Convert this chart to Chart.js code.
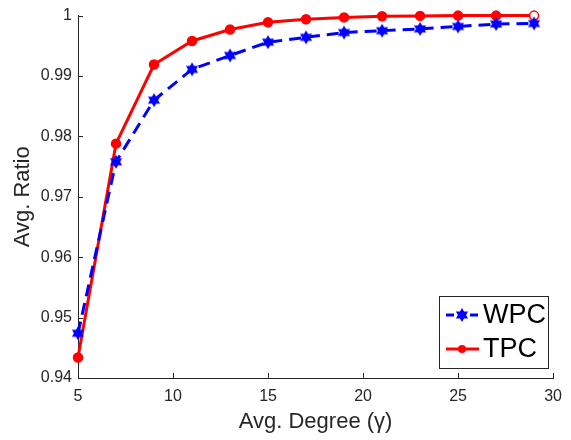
<!DOCTYPE html>
<html>
<head>
<meta charset="utf-8">
<script src="https://cdn.jsdelivr.net/npm/chart.js@4.4.1/dist/chart.umd.min.js"></script>
<style>
  body { margin: 0; background: #fff; }
  #wrap { width: 571px; height: 440px; }
</style>
</head>
<body>
<div id="wrap"><canvas id="ratioChart" width="571" height="440"></canvas></div>
<script>
const degrees = [5, 7, 9, 11, 13, 15, 17, 19, 21, 23, 25, 27, 29];
const wpcRatio = [0.9474, 0.9758, 0.9860, 0.9911, 0.9934, 0.9956, 0.9964, 0.9972, 0.9975, 0.9978, 0.9982, 0.9986, 0.9987];
const tpcRatio = [0.9434, 0.9788, 0.9919, 0.9958, 0.9977, 0.9989, 0.9994, 0.9997, 0.9999, 0.99995, 1.0, 1.0, 1.0];
const xTicks = [5, 10, 15, 20, 25, 30];
const yTicks = [0.94, 0.95, 0.96, 0.97, 0.98, 0.99, 1];

const axisColor = '#262626';
const font = '"Liberation Sans", Arial, Helvetica, sans-serif';

// six pointed star like matlab's hexagram marker
function hexagram(r, color) {
  const c = document.createElement('canvas');
  c.width = c.height = r * 2 + 2;
  const g = c.getContext('2d');
  g.translate(r + 1, r + 1);
  g.beginPath();
  for (let i = 0; i < 12; i++) {
    const a = -Math.PI / 2 + i * Math.PI / 6;
    const rr = i % 2 ? r * 0.58 : r;
    g.lineTo(rr * Math.cos(a), rr * Math.sin(a));
  }
  g.closePath();
  g.fillStyle = color;
  g.fill();
  return c;
}
const star = hexagram(7, '#0000ff');

const tpcFill = tpcRatio.map((v, i) => i === tpcRatio.length - 1 ? '#ffffff' : '#ff0000');

// inward tick marks, matlab style
const innerTicks = {
  id: 'innerTicks',
  afterDraw(chart) {
    const { ctx, chartArea, scales } = chart;
    ctx.save();
    ctx.strokeStyle = axisColor;
    ctx.lineWidth = 1;
    ctx.beginPath();
    xTicks.forEach(t => {
      const px = Math.round(scales.x.getPixelForValue(t)) + 0.5;
      ctx.moveTo(px, chartArea.bottom);
      ctx.lineTo(px, chartArea.bottom - 5);
    });
    yTicks.forEach(t => {
      const py = Math.round(scales.y.getPixelForValue(t)) + 0.5;
      ctx.moveTo(chartArea.left, py);
      ctx.lineTo(chartArea.left + 5, py);
    });
    ctx.stroke();
    ctx.restore();
  }
};

// legend box inside plot, lower right
const boxLegend = {
  id: 'boxLegend',
  afterDraw(chart) {
    const ctx = chart.ctx;
    const x0 = 439, y0 = 296, w = 109, h = 72;
    ctx.save();
    ctx.fillStyle = '#fff';
    ctx.fillRect(x0, y0, w, h);
    ctx.strokeStyle = axisColor;
    ctx.lineWidth = 1;
    ctx.strokeRect(x0 + 0.5, y0 + 0.5, w, h);
    const rows = [
      { label: 'WPC', color: '#0000ff', dash: [8, 4], y: 315 },
      { label: 'TPC', color: '#ff0000', dash: [], y: 349 }
    ];
    rows.forEach(r => {
      ctx.strokeStyle = r.color;
      ctx.lineWidth = 3;
      ctx.setLineDash(r.dash);
      ctx.beginPath();
      ctx.moveTo(446, r.y);
      ctx.lineTo(479, r.y);
      ctx.stroke();
      ctx.setLineDash([]);
      if (r.label === 'WPC') {
        ctx.drawImage(star, 462 - star.width / 2, r.y - star.height / 2);
      } else {
        ctx.fillStyle = r.color;
        ctx.beginPath();
        ctx.arc(462, r.y, 4, 0, Math.PI * 2);
        ctx.fill();
      }
      ctx.fillStyle = '#000';
      ctx.font = '27px ' + font;
      ctx.textBaseline = 'middle';
      ctx.fillText(r.label, 483, r.y + 1);
    });
    ctx.restore();
  }
};

const ctx = document.getElementById('ratioChart').getContext('2d');
new Chart(ctx, {
  type: 'line',
  data: {
    datasets: [
      {
        label: 'WPC',
        data: degrees.map((d, i) => ({ x: d, y: wpcRatio[i] })),
        borderColor: '#0000ff',
        borderWidth: 3,
        borderDash: [12, 7],
        pointStyle: star,
        pointRadius: 7,
        tension: 0,
        clip: false
      },
      {
        label: 'TPC',
        data: degrees.map((d, i) => ({ x: d, y: tpcRatio[i] })),
        borderColor: '#ff0000',
        borderWidth: 3,
        pointStyle: 'circle',
        pointRadius: 4.5,
        pointBorderWidth: 1.5,
        pointBackgroundColor: tpcFill,
        pointBorderColor: '#ff0000',
        tension: 0,
        clip: false
      }
    ]
  },
  options: {
    responsive: false,
    animation: false,
    layout: { padding: { top: 14, right: 12, left: 0, bottom: 0 } },
    plugins: { legend: { display: false }, tooltip: { enabled: false } },
    scales: {
      x: {
        type: 'linear',
        min: 5,
        max: 30,
        afterBuildTicks: s => { s.ticks = xTicks.map(v => ({ value: v })); },
        afterFit: s => { s.height = 62; },
        grid: { display: true, drawOnChartArea: false, drawTicks: false },
        border: { display: true, color: axisColor, width: 1 },
        ticks: { color: axisColor, padding: 9, font: { family: font, size: 16 }, maxRotation: 0 },
        title: { display: true, text: 'Avg. Degree (γ)', color: axisColor, font: { family: font, size: 22 }, padding: { top: 0, bottom: 5 } }
      },
      y: {
        min: 0.94,
        max: 1,
        afterBuildTicks: s => { s.ticks = yTicks.map(v => ({ value: v })); },
        afterFit: s => { s.width = 78; },
        grid: { display: true, drawOnChartArea: false, drawTicks: false },
        border: { display: true, color: axisColor, width: 1 },
        ticks: { color: axisColor, padding: 6, font: { family: font, size: 16 }, callback: v => String(+v.toFixed(2)) },
        title: { display: true, text: 'Avg. Ratio', color: axisColor, font: { family: font, size: 22 }, padding: { top: 10, bottom: 0 } }
      }
    }
  },
  plugins: [innerTicks, boxLegend]
});
</script>
</body>
</html>
